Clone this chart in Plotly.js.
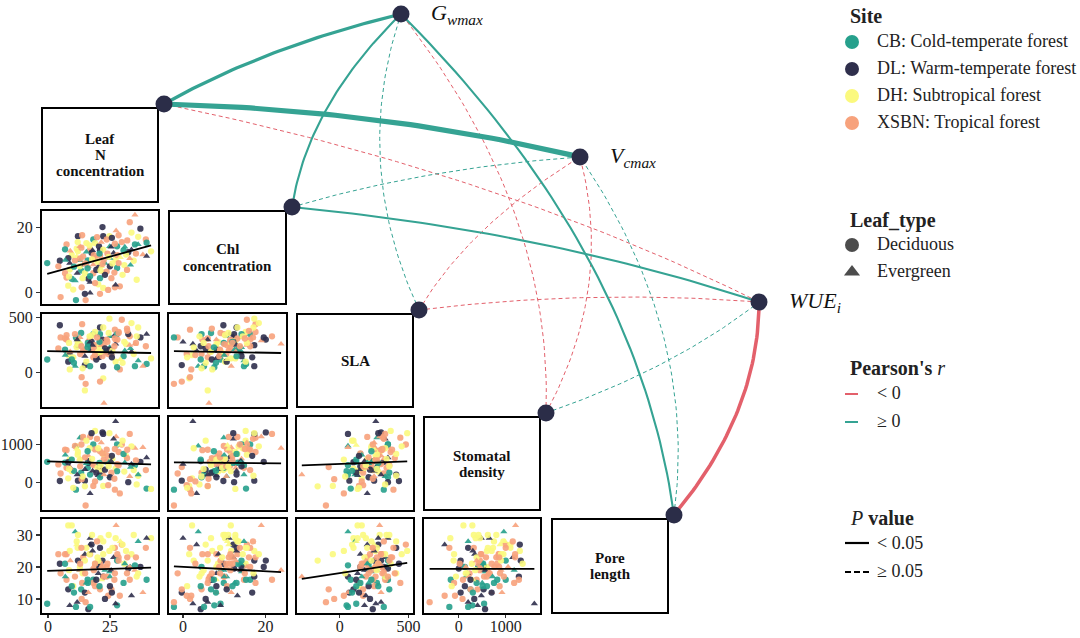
<!DOCTYPE html>
<html><head><meta charset="utf-8">
<script src="https://cdn.plot.ly/plotly-3.0.1.min.js"></script>
<style>html,body{margin:0;padding:0;background:#fff}#chart{width:1080px;height:638px}</style>
</head><body><div id="chart"></div>
<script>
// ---------------- DATA ----------------
const traitLabels = [["Leaf","N","concentration"], ["Chl","concentration"], ["SLA"], ["Stomatal","density"], ["Pore","length"]];
const outerLabels = ["<i>G<sub>wmax</sub></i>", "<i>V<sub>cmax</sub></i>", "<i>WUE<sub>i</sub></i>"];
const siteCodes = ["CB", "DL", "DH", "XSBN"];
const siteNames = ["CB: Cold-temperate forest", "DL: Warm-temperate forest", "DH: Subtropical forest", "XSBN: Tropical forest"];
const leafTypes = ["Deciduous", "Evergreen"];

// per-sample site (C=CB, D=DL, H=DH, X=XSBN) and leaf type (D=Deciduous, E=Evergreen)
const sampleSite = ("CDXXHXDCDX"+"HCCCXDDDCD"+"DDXDCHXXXH"+"XXDHCDXXXD"+"HCCXCHXDHH"+"HHXXHDHXXX"+"CCHXHXXXXC"+
  "DCHDCXHDXC"+"XHHHCHXCHD"+"XHDXXDHCHD"+"X"+"XHXCDXHXHX"+"DXCHXDCXHX"+"HCXHXDXHXC"+"DXCXHCDXXH").split("");
const sampleType = ("DDDDDDEDDD"+"DEDEDDDEDD"+"DDDEDDDDDD"+"EDEDDEDDED"+"DEDDDDEDDD"+"DDDDDDDEDD"+"EEDDDDDDED"+
  "DEDEEDDEDD"+"DDDDDEDDED"+"DDEDEEDDDD"+"E"+"DDDEDDDDDE"+"EDDDDDDDDE"+"DDDEDEDDDE"+"EDEDDDDDED").split("");
const leafN = [-0.3,4.8,5.1,7.5,8.2,7.5,8.8,11.3,12.1,13.8,11.6,12.9,13.4,11.0,15.2,14.9,16.3,17.0,18.3,22.0,
  22.3,21.0,21.0,20.3,21.0,22.3,24.3,27.0,29.0,24.8,27.5,28.5,26.5,27.3,27.9,27.3,29.8,33.0,35.1,37.3,
  36.4,36.4,35.1,39.5,39.8,41.6,38.3,32.4,34.6,30.8,12.1,9.6,14.2,17.0,19.0,17.6,14.9,16.3,18.3,23.7,
  23.0,25.0,8.8,6.9,10.2,13.6,21.0,4.2,12.9,16.1,20.6,24.9,31.5,33.7,33.3,31.9,35.8,17.0,10.9,6.9,
  19.0,22.3,15.5,12.9,27.9,21.6,25.6,17.0,11.6,8.2,28.5,33.7,39.8,23.7,18.3,14.9,30.1,9.6,20.3,25.0,22.6,
  18.5,20.0,22.5,15.5,19.5,24.0,26.0,13.0,16.8,21.5,25.5,28.0,10.5,14.0,19.0,23.0,30.5,32.0,12.0,9.0,
  17.8,20.8,26.8,29.2,15.0,11.8,22.0,24.5,35.5,7.0,18.0,27.0,31.0,13.5,21.2,16.0,25.8,19.8,33.0,8.5];
const chl = [9.1,9.8,-1.3,4.7,2.2,14.8,9.1,-2.2,17.3,17.6,13.5,9.9,6.8,3.7,-2.2,-0.3,4.3,3.3,16.3,20.1,
  17.3,13.0,11.4,8.1,4.5,1.5,0.9,1.7,2.0,17.3,19.0,17.6,12.2,10.2,7.6,2.4,15.5,21.6,23.8,19.6,
  17.1,14.8,14.8,16.3,15.3,12.7,11.7,12.4,9.8,8.5,12.7,11.6,11.1,13.2,15.2,12.2,6.0,8.1,6.0,6.5,
  9.1,10.6,7.1,6.0,1.0,1.7,-0.3,8.1,14.2,9.9,14.2,14.2,11.7,13.2,8.5,7.0,4.0,0.0,9.9,13.3,
  10.7,13.2,15.2,8.1,14.2,8.1,4.5,5.1,11.1,10.6,9.1,18.4,11.2,16.3,8.6,8.6,5.5,4.3,2.6,8.1,6.3,
  11.5,9.5,10.0,12.5,7.0,12.0,9.0,10.5,14.5,15.5,14.0,11.5,8.0,4.5,3.0,5.5,13.0,16.0,15.5,12.8,
  10.2,12.0,6.2,10.8,9.0,6.0,8.8,11.0,12.0,10.0,13.0,15.0,14.0,13.8,6.8,7.5,16.8,17.0,10.5,5.0];
const sla = [120,430,320,300,160,340,180,320,250,440,230,270,360,60,-100,70,240,200,350,300,
  60,410,280,130,350,-50,170,390,30,490,290,370,330,100,50,262,480,330,260,320,
  410,110,60,240,80,130,60,350,170,280,290,130,200,310,370,280,-160,300,140,190,
  200,330,30,310,140,-40,-80,220,320,270,150,230,260,190,220,400,330,280,350,210,
  250,410,100,260,350,240,170,60,250,100,360,450,350,300,200,150,90,120,230,210,-275,
  230,180,260,210,120,280,200,170,330,250,180,300,90,40,160,220,150,380,270,190,
  340,280,240,120,210,300,150,360,270,160,250,310,200,240,190,230,140,320,250,270];
const stomDensity = [540,30,230,850,100,380,400,-200,40,1180,950,1180,250,960,-620,40,560,-300,1000,1320,
  1280,200,820,180,130,-100,-80,-200,-300,1300,1210,800,1150,360,290,1610,1000,1280,900,540,
  170,200,450,320,-170,-180,920,0,320,280,800,290,1200,1200,1360,1300,-110,700,-100,540,
  520,150,600,860,-150,80,400,470,620,380,420,560,700,480,400,640,-60,480,960,520,
  870,750,1100,600,1000,300,250,200,880,530,450,950,650,860,460,340,1100,600,900,130,200,
  450,380,600,500,250,700,620,420,900,1050,560,480,300,150,20,330,750,860,730,380,
  620,510,90,980,660,200,760,420,580,720,300,880,520,1000,450,820,700,1150,150,350];
const poreLength = [8.5,21,18,24,33,16,8,7.5,22,15,28,19,13,31,9,12,6.8,27,16,22,
  17,26,21,18,20,24,11,26,11,25,33,23,23,29,8,8.5,27,16,19,20,
  18,28,20.5,26,16,29,12,19.5,30,21,30,33,23,24,21,27,22,12,15,17,
  19,17,25,24,14,10,13,24,19,15,20,18.5,25,11,20,18,17,29,17,21,
  14,28,26,20,22,16,13,7.5,27,13,22,24,29,20,20,24,27,14,22,14,17,
  19,23,17,15,16,21,26,21,24,20,19,24,12,18,21,10,15,23,26,22,
  30,14,16,28,18,9,20,30,23,17,25,18,21,26,29,16,12,28,20,19];

// panels: [x trait, y trait]; fitted lm lines read at min/max x
const panelPairs = [[0,1],[0,2],[1,2],[0,3],[1,3],[2,3],[0,4],[1,4],[2,4],[3,4]];
const fitYStart = [5.8, 196, 196, 553, 526, 447, 18.8, 20.2, 16.3, 19.4];
const fitYEnd   = [14.5, 179, 179, 474, 500, 553, 19.8, 18.4, 21.3, 19.4];

// links trait -> outer node
const edgeFrom = [0,0,0,1,1,1,2,2,2,3,3,3,4,4,4];
const edgeTo   = [0,1,2,0,1,2,0,1,2,0,1,2,0,1,2];
const edgeR = [0.30,0.47,-0.07,0.19,0.07,0.19,0.06,-0.07,-0.06,-0.08,-0.07,0.06,0.19,0.08,-0.32];
const edgeP = [0.001,0.001,0.40,0.010,0.35,0.010,0.50,0.40,0.45,0.30,0.35,0.50,0.010,0.30,0.001];

// ---------------- STYLE / LAYOUT ----------------
const W = 1080, H = 638;
const FONT = '"Liberation Serif", "Times New Roman", Times, serif';
const colL = [42,169,297,424,552], colR = [158,286,413,540,668];
const rowT = [108,211,314,417,519], rowB = [202,304,407,510,613];
const outerPos = [[401,14],[580,157],[759,302]];
const siteColors = {C:"#26A08C", D:"#2F2F4C", H:"#FBF97E", X:"#F7A27C"};
const siteColorList = ["#26A08C","#2F2F4C","#FBF97E","#F7A27C"];
const posCol = "#35A393", negCol = "#E3606B", nodeCol = "#2B2D48";
const ranges = [[-2.4,44.4],[-3.4,25],[-310,532],[-740,1730],[5.6,35]];
const tickVals = [[0,25],[0,20],[0,500],[0,1000],[10,20,30]];
const CURV = 0.05;

const vars = [leafN, chl, sla, stomDensity, poreLength];
const px = p => p / W, py = p => 1 - p / H;

const data = [];
const layout = {
  width: W, height: H, margin: {l:0, r:0, t:0, b:0},
  paper_bgcolor: "#fff", plot_bgcolor: "rgba(0,0,0,0)", showlegend: false,
  font: {family: FONT, color: "#222"}, shapes: [], annotations: [], hovermode: false
};

panelPairs.forEach(([xi, yi], k) => {
  const n = k + 1, sfx = n === 1 ? "" : String(n);
  const xa = "x" + sfx, ya = "y" + sfx;
  const xs = vars[xi], ys = vars[yi];
  data.push({
    type: "scatter", mode: "markers", x: xs, y: ys, xaxis: xa, yaxis: ya,
    marker: {
      size: 6.3,
      color: sampleSite.map(s => siteColors[s]),
      symbol: sampleType.map(t => t === "E" ? "triangle-up" : "circle"),
      opacity: 0.9, line: {width: 0}
    }
  });
  const xmin = Math.min(...xs), xmax = Math.max(...xs);
  data.push({type: "scatter", mode: "lines", x: [xmin, xmax], y: [fitYStart[k], fitYEnd[k]],
    xaxis: xa, yaxis: ya, line: {color: "#000", width: 1.8}});
  const left = xi === 0, bottom = yi === 4;
  const common = {showgrid: false, zeroline: false, showline: true, mirror: true, linecolor: "#000",
    linewidth: 2, ticklen: 4, tickwidth: 1.2, tickcolor: "#333", fixedrange: true,
    tickfont: {size: 16, color: "#222", family: FONT}};
  layout["xaxis" + sfx] = Object.assign({}, common, {domain: [px(colL[xi]), px(colR[xi])], anchor: ya,
    range: ranges[xi], tickvals: tickVals[xi], ticks: bottom ? "outside" : "", ticklen: 3,
    ticklabelstandoff: -5, showticklabels: bottom});
  layout["yaxis" + sfx] = Object.assign({}, common, {domain: [py(rowB[yi]), py(rowT[yi])], anchor: xa,
    range: ranges[yi], tickvals: tickVals[yi], ticks: left ? "outside" : "", showticklabels: left});
});

// overlay axis in pixel units
layout.xaxis11 = {domain: [0,1], range: [0, W], visible: false, fixedrange: true, anchor: "y11"};
layout.yaxis11 = {domain: [0,1], range: [H, 0], visible: false, fixedrange: true, anchor: "x11"};

// diagonal boxes + labels (one annotation per text line, 16px line spacing)
traitLabels.forEach((lines, i) => {
  layout.shapes.push({type: "rect", xref: "paper", yref: "paper", layer: "below",
    x0: px(colL[i]), x1: px(colR[i]), y0: py(rowB[i]), y1: py(rowT[i]), line: {color: "#000", width: 2}});
  const cy = (rowT[i] + rowB[i]) / 2, cx = (colL[i] + colR[i]) / 2;
  lines.forEach((ln, j) => {
    layout.annotations.push({xref: "paper", yref: "paper", x: px(cx), y: py(cy + (j - (lines.length - 1) / 2) * 16),
      xanchor: "center", yanchor: "middle", text: "<b>" + ln + "</b>", showarrow: false,
      font: {size: 15, family: FONT, color: "#111"}});
  });
});

// network
const traitPos = colR.map((r, i) => [r + 6, rowT[i] - 4]);
function curvePts(P, Q, s) {
  const pu = P[0] / 2, pv = P[1], qu = Q[0] / 2, qv = Q[1];
  const du = qu - pu, dv = qv - pv, L = Math.hypot(du, dv);
  const nu = s * dv / L, nv = -s * du / L, sag = CURV * L;
  const cu = (pu + qu) / 2 + nu * 2 * sag, cv = (pv + qv) / 2 + nv * 2 * sag;
  const xs = [], ys = [];
  for (let i = 0; i <= 50; i++) {
    const t = i / 50, a = (1 - t) * (1 - t), b = 2 * t * (1 - t), c = t * t;
    xs.push(2 * (a * pu + b * cu + c * qu)); ys.push(a * pv + b * cv + c * qv);
  }
  return [xs, ys];
}
const order = edgeFrom.map((_, i) => i).sort((a, b) => Math.abs(edgeR[a]) - Math.abs(edgeR[b]));
order.forEach(i => {
  const s = edgeFrom[i] < 3 ? 1 : -1;
  const [xs, ys] = curvePts(traitPos[edgeFrom[i]], outerPos[edgeTo[i]], s);
  const sig = edgeP[i] < 0.05;
  data.push({type: "scatter", mode: "lines", x: xs, y: ys, xaxis: "x11", yaxis: "y11",
    line: {color: edgeR[i] < 0 ? negCol : posCol, width: Math.max(1, Math.abs(edgeR[i]) * 11),
      dash: sig ? "solid" : "4px,3px"}});
});
const allNodes = traitPos.concat(outerPos);
data.push({type: "scatter", mode: "markers", x: allNodes.map(p => p[0]), y: allNodes.map(p => p[1]),
  xaxis: "x11", yaxis: "y11", marker: {size: 17, color: nodeCol, line: {width: 0}}});
outerLabels.forEach((lab, j) => {
  layout.annotations.push({xref: "paper", yref: "paper", x: px(outerPos[j][0] + 28), y: py(outerPos[j][1]),
    xanchor: "left", yanchor: "middle", text: lab, showarrow: false, font: {size: 22, family: FONT, color: "#111"}});
});

// custom legend
const LX = 852, TX = 875, TTX = 848;
function legText(t, y, size, x) {
  layout.annotations.push({xref: "paper", yref: "paper", x: px(x || TX), y: py(y), xanchor: "left", yanchor: "middle",
    text: t, showarrow: false, font: {size: size || 18, family: FONT, color: "#222"}});
}
legText("<b>Site</b>", 16, 20, TTX);
siteNames.forEach((nm, i) => legText(nm, 41 + i * 27));
data.push({type: "scatter", mode: "markers", x: siteNames.map(() => LX), y: siteNames.map((_, i) => 42 + i * 27),
  xaxis: "x11", yaxis: "y11", marker: {size: 14, color: siteColorList, line: {width: 0}}});
legText("<b>Leaf_type</b>", 220, 20, TTX);
leafTypes.forEach((nm, i) => legText(nm, 244 + i * 27));
data.push({type: "scatter", mode: "markers", x: [LX, LX], y: [245, 272], xaxis: "x11", yaxis: "y11",
  marker: {size: [14, 14], color: "#000", symbol: ["circle", "triangle-up"], line: {width: 0}}});
legText("<b>Pearson's</b> <i>r</i>", 368, 20, TTX);
legText("&lt; 0", 393); legText("≥ 0", 421);
[[394, negCol], [422, posCol]].forEach(([y, c]) => data.push({type: "scatter", mode: "lines", x: [845, 858], y: [y, y],
  xaxis: "x11", yaxis: "y11", line: {color: c, width: 2}}));
legText("<i>P</i> <b>value</b>", 518, 20, TTX);
legText("&lt; 0.05", 543); legText("≥ 0.05", 571);
data.push({type: "scatter", mode: "lines", x: [845, 869], y: [543, 543], xaxis: "x11", yaxis: "y11", line: {color: "#000", width: 2.2}});
data.push({type: "scatter", mode: "lines", x: [845, 869], y: [572, 572], xaxis: "x11", yaxis: "y11", line: {color: "#000", width: 2.2, dash: "6px,3px"}});

Plotly.newPlot("chart", data, layout, {displayModeBar: false, staticPlot: true});
</script></body></html>
